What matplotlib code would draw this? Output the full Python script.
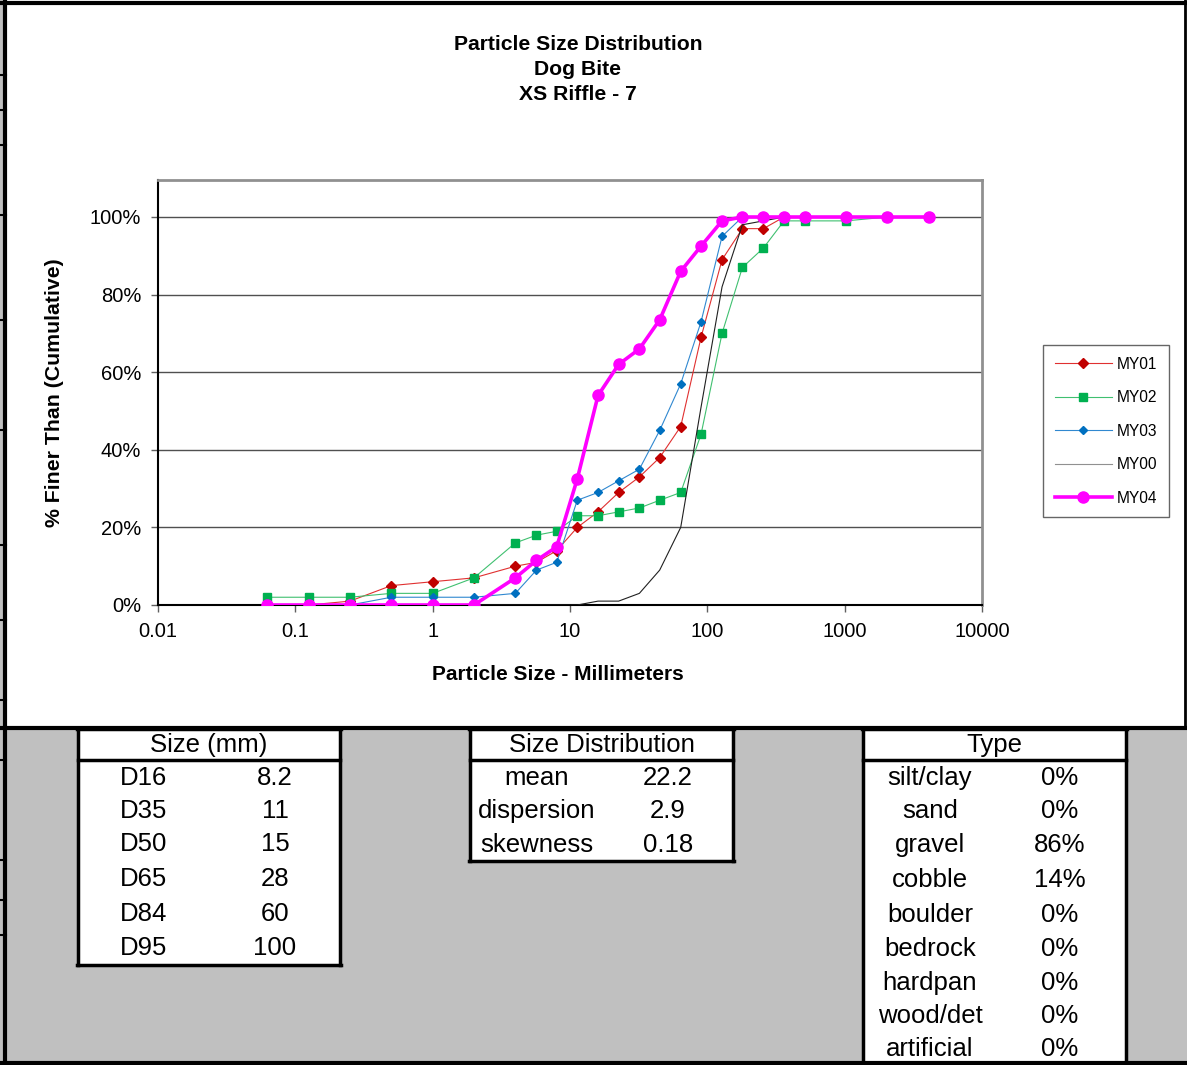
import matplotlib
matplotlib.use('Agg')
import matplotlib.pyplot as plt
from matplotlib.patches import Rectangle
from matplotlib.lines import Line2D

plt.rcParams['font.family'] = ['Liberation Sans', 'DejaVu Sans']

# sieve sizes (mm) and cumulative % finer
sizes = [0.062, 0.125, 0.25, 0.5, 1, 2, 4, 5.7, 8, 11.3, 16, 22.6, 32, 45,
         64, 90, 128, 180, 256, 362, 512, 1024, 2048, 4096]
my01 = [0, 0, 1, 5, 6, 7, 10, 11, 14, 20, 24, 29, 33, 38, 46, 69, 89, 97, 97, 100]
my02 = [2, 2, 2, 3, 3, 7, 16, 18, 19, 23, 23, 24, 25, 27, 29, 44, 70, 87, 92,
        99, 99, 99, 100]
my03 = [0, 0, 0, 2, 2, 2, 3, 9, 11, 27, 29, 32, 35, 45, 57, 73, 95, 100, 100, 100]
my00 = [0, 0, 0, 0, 0, 0, 0, 0, 0, 0, 1, 1, 3, 9, 20, 51, 82, 98, 99, 100]
my04 = [0, 0, 0, 0, 0, 0, 7, 11.5, 15, 32.5, 54, 62, 66, 73.5, 86, 92.5, 99,
        100, 100, 100, 100, 100, 100, 100]

title_lines = ['Particle Size Distribution', 'Dog Bite', 'XS Riffle - 7']
xticks = [0.01, 0.1, 1, 10, 100, 1000, 10000]
xtick_labels = ['0.01', '0.1', '1', '10', '100', '1000', '10000']
yticks = [0, 20, 40, 60, 80, 100]

size_labels = ['D16', 'D35', 'D50', 'D65', 'D84', 'D95']
size_values = ['8.2', '11', '15', '28', '60', '100']
dist_labels = ['mean', 'dispersion', 'skewness']
dist_values = ['22.2', '2.9', '0.18']
type_labels = ['silt/clay', 'sand', 'gravel', 'cobble', 'boulder', 'bedrock',
               'hardpan', 'wood/det', 'artificial']
type_values = ['0%', '0%', '86%', '14%', '0%', '0%', '0%', '0%', '0%']

W, H = 1187, 1065
fig = plt.figure(figsize=(W / 100, H / 100), dpi=100)


def fx(px):
    return px / W


def fy(py):
    return 1 - py / H


def rect(x0, y0, x1, y1, fc, ec='none', lw=0, z=0):
    fig.add_artist(Rectangle((fx(x0), fy(y1)), fx(x1) - fx(x0), fy(y0) - fy(y1),
                             transform=fig.transFigure, facecolor=fc,
                             edgecolor=ec, linewidth=lw, zorder=z))


def hline(x0, x1, y, lw, c='black', z=5):
    fig.add_artist(Line2D([fx(x0), fx(x1)], [fy(y), fy(y)], transform=fig.transFigure,
                          color=c, linewidth=lw, zorder=z))


def vline(x, y0, y1, lw, c='black', z=5):
    fig.add_artist(Line2D([fx(x), fx(x)], [fy(y0), fy(y1)], transform=fig.transFigure,
                          color=c, linewidth=lw, zorder=z))


# frame of the sheet
rect(0, 728, W, H, '#C0C0C0')
rect(0, 0, 4, 728, '#C0C0C0')
hline(0, W, 3, 3)
vline(5, 0, H, 3)
vline(1185, 0, 728, 2)
hline(0, W, 728, 3)
hline(0, W, 1063, 3)
for ty in [75, 110, 145, 215, 320, 430, 545, 620, 700, 760, 860, 900, 935]:
    hline(0, 6, ty, 1.5)

# plot area
ax = fig.add_axes([fx(158), fy(605), fx(982) - fx(158), fy(180) - fy(605)])
ax.set_xscale('log')
ax.set_xlim(0.01, 10000)
ax.set_ylim(0, 425 / 3.88)

ax.plot(sizes[:len(my01)], my01, color='#E03030', lw=0.8, marker='D', ms=5,
        mfc='#C00000', mec='#C00000', label='MY01', zorder=3)
ax.plot(sizes[:len(my02)], my02, color='#40C070', lw=0.8, marker='s', ms=6,
        mfc='#00B050', mec='#00B050', label='MY02', zorder=3)
ax.plot(sizes[:len(my03)], my03, color='#3088D0', lw=0.8, marker='D', ms=4.5,
        mfc='#0070C0', mec='#0070C0', label='MY03', zorder=3)
ax.plot(sizes[:len(my00)], my00, color='#202020', lw=0.8, label='MY00', zorder=3)
ax.plot(sizes[:len(my04)], my04, color='#FF00FF', lw=2.6, marker='o', ms=8,
        mfc='#FF00FF', mec='#FF00FF', label='MY04', zorder=4)

for v in yticks[1:]:
    ax.axhline(v, color='#505050', lw=1.0, zorder=1)

ax.set_xticks(xticks)
ax.set_xticklabels(xtick_labels)
ax.minorticks_off()
ax.set_yticks(yticks)
ax.set_yticklabels([f'{v}%' for v in yticks])
ax.tick_params(axis='both', labelsize=14.5, direction='out', length=5, width=1,
               color='#606060', pad=7)
for s in ['left', 'bottom']:
    ax.spines[s].set_color('black')
    ax.spines[s].set_linewidth(1.5)
for s in ['top', 'right']:
    ax.spines[s].set_color('#909090')
    ax.spines[s].set_linewidth(2)

fig.text(fx(558), fy(674), 'Particle Size - Millimeters', ha='center', va='center',
         fontsize=15, fontweight='bold')
fig.text(fx(55), fy(393), '% Finer Than (Cumulative)', ha='center', va='center',
         rotation=90, fontsize=15.3, fontweight='bold')

for i, t in enumerate(title_lines):
    fig.text(fx(578), fy(45 + i * 24.5), t, ha='center', va='center',
             fontsize=15.2, fontweight='bold')

leg = ax.legend(loc='upper left', bbox_to_anchor=(fx(1043), fy(345)),
                bbox_transform=fig.transFigure, fontsize=11.2, frameon=True,
                fancybox=False, edgecolor='#404040', handlelength=3.7,
                labelspacing=1.19, borderpad=0.75, handletextpad=0.3,
                borderaxespad=0)
leg.get_frame().set_linewidth(1)
leg.get_lines()[3].set_color('#909090')


def table(x0, x1, ybot, header, labels, values, lab_x, val_x, row_y):
    rect(x0, 729, x1, ybot, 'white', z=2)
    hline(x0 - 1, x1 + 1, 729, 2.5)
    hline(x0 - 1, x1 + 1, ybot, 2.5)
    hline(x0, x1, 760, 2.5)
    vline(x0, 729, ybot, 2.5)
    vline(x1, 729, ybot, 2.5)
    fig.text(fx((x0 + x1) / 2), fy(745), header, ha='center', va='center',
             fontsize=18.5, zorder=6)
    for lab, val, yy in zip(labels, values, row_y):
        fig.text(fx(lab_x), fy(yy), lab, ha='center', va='center', fontsize=18.5,
                 zorder=6)
        fig.text(fx(val_x), fy(yy), val, ha='center', va='center', fontsize=18.5,
                 zorder=6)


table(78, 340, 965, 'Size (mm)', size_labels, size_values, 144, 275,
      [778, 811, 844, 879, 914, 948])
table(470, 733, 861, 'Size Distribution', dist_labels, dist_values, 537, 668,
      [778, 811, 845])
table(863, 1126, 1063, 'Type', type_labels, type_values, 930, 1060,
      [778, 811, 845, 880, 915, 949, 983, 1016, 1049])

fig.savefig('out.png', dpi=100)
